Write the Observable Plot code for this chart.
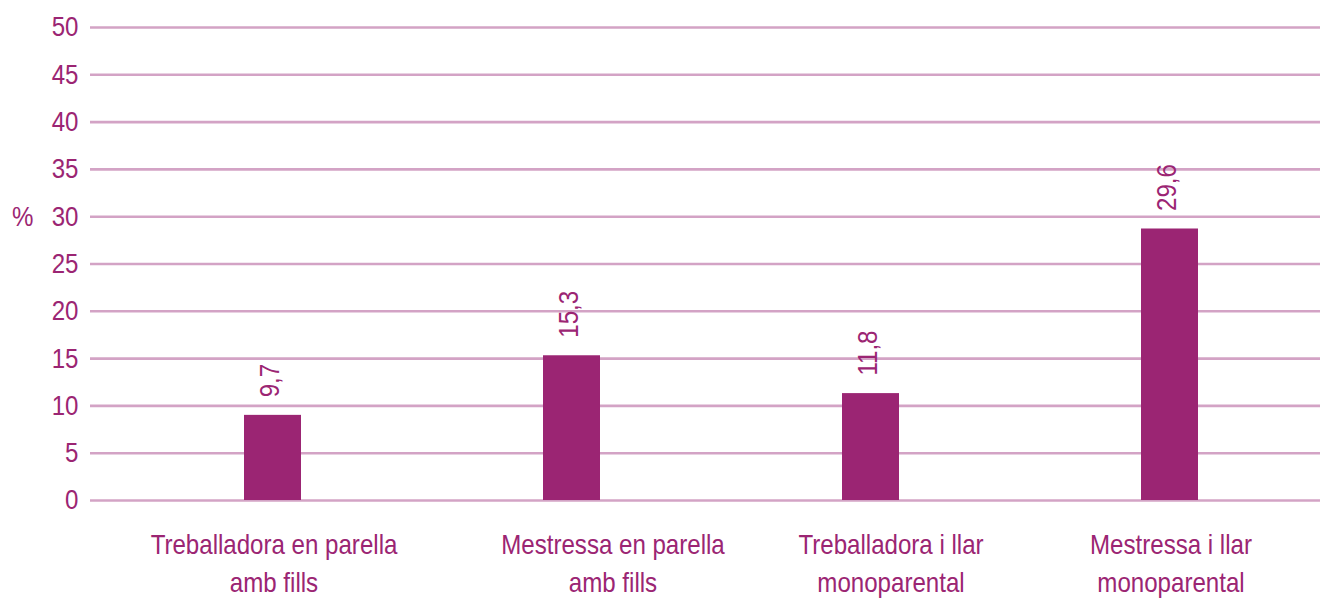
<!DOCTYPE html>
<html>
<head>
<meta charset="utf-8">
<script src="https://cdn.jsdelivr.net/npm/d3@7"></script>
<script src="https://cdn.jsdelivr.net/npm/@observablehq/plot@0.6"></script>
<style>
  html, body { margin: 0; padding: 0; background: #fff; }
  #wrap { position: relative; width: 1320px; height: 598px; }
  #unit { position: absolute; left: 12px; top: 201px; font: 28px "Liberation Sans", Arial, sans-serif; color: #9b2573; transform: scaleX(0.86); transform-origin: left top; }
</style>
</head>
<body>
<div id="wrap"><div id="unit">%</div></div>
<script>
const categories = [
  "Treballadora en parella\namb fills",
  "Mestressa en parella\namb fills",
  "Treballadora i llar\nmonoparental",
  "Mestressa i llar\nmonoparental"
];
const barValues = [9.0, 15.3, 11.3, 28.7];
const labelValues = ["9,7", "15,3", "11,8", "29,6"];
const yTicks = [0, 5, 10, 15, 20, 25, 30, 35, 40, 45, 50];

const data = categories.map((c, i) => ({cat: c, value: barValues[i], label: labelValues[i]}));

const purple = "#9b2573";
const grid = "#d3a3c5";
const font = '"Liberation Sans", Arial, sans-serif';

const xAxisStyle = {tickSize: 0, tickPadding: 26, label: null, lineHeight: 1.36, fontSize: 28, fill: purple};

const chart = Plot.plot({
  width: 1320,
  height: 598,
  marginLeft: 90,
  marginRight: 0,
  marginTop: 27,
  marginBottom: 98,
  style: {fontFamily: font, fontSize: "28px", color: purple, background: "transparent"},
  x: {type: "band", domain: categories, range: [122, 1319], paddingInner: 0.81, paddingOuter: 0.405},
  y: {domain: [0, 50], ticks: yTicks},
  marks: [
    Plot.ruleY(yTicks, {stroke: grid, strokeWidth: 2.6}),
    Plot.barY(data, {x: "cat", y: "value", fill: purple}),
    Plot.text(data, {x: "cat", y: "value", text: "label", rotate: -90, textAnchor: "start", dy: -18, dx: -3, fill: purple, fontSize: 28}),
    Plot.axisY({ticks: yTicks, tickSize: 0, tickPadding: 12, label: null, fontSize: 28, fill: purple}),
    // category labels (the reference offsets the middle two to the right of their bars)
    Plot.axisX([categories[0], categories[3]], {...xAxisStyle, dx: 1}),
    Plot.axisX([categories[1]], {...xAxisStyle, dx: 41}),
    Plot.axisX([categories[2]], {...xAxisStyle, dx: 20})
  ]
});
document.getElementById("wrap").appendChild(chart);
chart.style.position = "absolute";
chart.style.left = "0";
chart.style.top = "0";

// condense glyphs to mimic a narrow typeface
const squeeze = 0.86;
chart.querySelectorAll("text").forEach(t => {
  const spans = t.querySelectorAll("tspan");
  const targets = spans.length ? Array.from(spans) : [t];
  targets.forEach(el => {
    const len = el.getComputedTextLength();
    if (len > 0) {
      el.setAttribute("textLength", (len * squeeze).toFixed(2));
      el.setAttribute("lengthAdjust", "spacingAndGlyphs");
    }
  });
});
</script>
</body>
</html>
